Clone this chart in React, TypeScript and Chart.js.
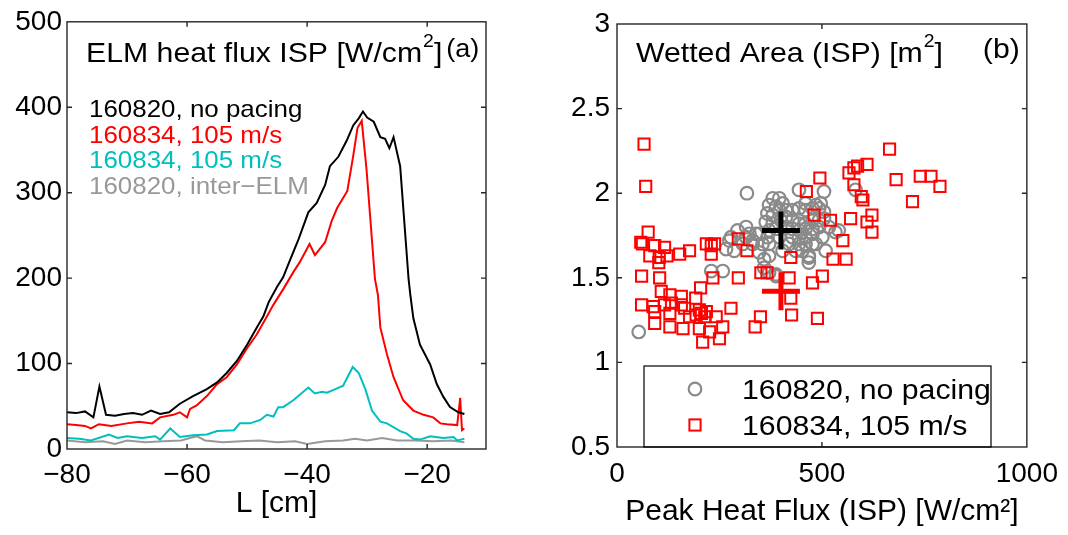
import React, { useEffect, useRef } from 'react';
import { Chart, registerables } from 'chart.js';
Chart.register(...registerables);

const FONT = '"Liberation Sans", Arial, Helvetica, sans-serif';

// ---------- Panel (a): ELM heat flux profiles ----------
const aXTicks = [-80, -60, -40, -20];
const aYTicks = [0, 100, 200, 300, 400, 500];
const aXMin = -80;
const aXMax = -10.2;
const aYMin = 0;
const aYMax = 500;

const noPacingL = [-80, -78.5, -77, -75.6, -74.6, -73.5, -72, -70.5, -69, -67.5, -66, -64.5, -63, -61.2, -59, -56.7, -55, -53.4, -51.7, -50, -48.4, -47.3, -46.4, -45, -44, -42.8, -41.4, -39.8, -38.4, -37, -36.2, -34.8, -33.4, -32.3, -31.4, -30.7, -30, -28.9, -27.8, -27, -26.3, -25.6, -24.5, -23.1, -22.8, -22.3, -21.2, -19.5, -18.4, -17.3, -16.2, -14.8, -13.8];
const noPacingQ = [43, 42, 44, 37, 73, 40, 39, 41, 42, 40, 45, 41, 43, 53, 62, 70, 78, 89, 103, 122, 142, 155, 172, 190, 201, 222, 246, 277, 288, 309, 331, 342, 361, 379, 387, 395, 388, 383, 365, 363, 352, 365, 331, 199, 180, 153, 122, 99, 76, 61, 49, 43, 41];

const pacedL = [-80, -78.5, -77, -76, -74.7, -72.6, -70, -68, -65.8, -64.5, -62.3, -61.2, -60, -59.5, -58.4, -56.7, -55, -53.4, -51.7, -50, -48.4, -46.7, -45.6, -43.9, -42.3, -41.2, -39.6, -38.7, -37, -35.9, -35, -33.3, -32.3, -31.6, -30.9, -30.1, -28.7, -28.2, -27.8, -26.7, -25.6, -24, -22.3, -20.6, -19, -17.8, -16.7, -15, -14.5, -14.2, -13.8];
const pacedQ = [29, 28, 27, 24, 29, 27, 30, 32, 30, 37, 40, 43, 37, 47, 51, 62, 76, 84, 99, 118, 134, 155, 169, 188, 207, 219, 240, 227, 242, 267, 282, 302, 344, 376, 384, 327, 199, 180, 142, 111, 84, 57, 45, 40, 37, 30, 29, 28, 60, 22, 24];

const pacedCyanL = [-80, -78, -76, -73, -71.6, -70, -67.5, -65.3, -64.5, -62.8, -61.2, -59, -56.7, -55, -52.2, -51.2, -49.5, -47.8, -46.7, -45.6, -44.8, -44, -42.3, -39.8, -38.7, -37.5, -36.7, -35, -34, -32.4, -31.4, -30.3, -29.2, -27.8, -26.7, -24.5, -23.4, -22.3, -21.2, -19.5, -17.3, -15.6, -15, -13.8];
const pacedCyanQ = [13, 12, 10, 17, 13, 15, 13, 15, 11, 24, 14, 16, 17, 21, 22, 30, 30, 34, 40, 38, 49, 49, 57, 72, 65, 67, 66, 71, 74, 96, 89, 70, 45, 32, 30, 21, 18, 12, 11, 15, 13, 14, 10, 12];

const interElmL = [-80, -77, -74, -72, -70, -67, -64, -61, -58.4, -57, -54, -51, -48, -45, -42, -40, -37, -34, -32, -30, -27.5, -25, -22, -19, -16, -13.8];
const interElmQ = [10, 8, 9, 6, 10, 8, 9, 10, 15, 10, 8, 9, 10, 8, 9, 6, 9, 10, 12, 10, 13, 10, 10, 9, 10, 8];

const aLabels = ['160820, no pacing', '160834, 105 m/s', '160834, 105 m/s', '160820, inter\u2212ELM'];
const aColors = ['#000000', '#ff0000', '#00bfbf', '#999999'];

// ---------- Panel (b): wetted area vs peak heat flux ----------
const bXTicks = [0, 500, 1000];
const bYTicks = [0.5, 1, 1.5, 2, 2.5, 3];
const bXMin = 0;
const bXMax = 1000;
const bYMin = 0.5;
const bYMax = 3;

const noPacingPeak = [317, 444, 505, 582, 380, 396, 371, 388, 404, 460, 485, 497, 367, 380, 396, 412, 428, 444, 460, 477, 493, 505, 363, 380, 428, 444, 460, 477, 493, 505, 371, 388, 428, 444, 460, 477, 493, 517, 541, 323, 347, 367, 444, 460, 477, 501, 533, 339, 315, 307, 331, 355, 371, 444, 460, 477, 485, 294, 274, 266, 286, 315, 331, 278, 347, 371, 468, 509, 428, 468, 359, 230, 258, 359, 388, 468, 388, 371, 53, 400, 412, 412, 396, 420, 404, 436, 452];
const noPacingArea = [2.00, 2.02, 2.01, 2.02, 1.97, 1.97, 1.93, 1.92, 1.94, 1.94, 1.93, 1.94, 1.88, 1.87, 1.90, 1.90, 1.90, 1.91, 1.90, 1.91, 1.91, 1.89, 1.83, 1.82, 1.84, 1.82, 1.82, 1.84, 1.84, 1.85, 1.78, 1.79, 1.79, 1.78, 1.79, 1.79, 1.80, 1.80, 1.78, 1.76, 1.76, 1.74, 1.74, 1.74, 1.76, 1.74, 1.77, 1.76, 1.80, 1.70, 1.70, 1.70, 1.70, 1.70, 1.70, 1.70, 1.70, 1.78, 1.72, 1.67, 1.66, 1.74, 1.72, 1.74, 1.65, 1.63, 1.63, 1.66, 1.74, 1.62, 1.61, 1.54, 1.54, 1.56, 1.51, 1.59, 1.52, 1.53, 1.18, 1.84, 1.80, 1.86, 1.74, 1.70, 1.66, 1.66, 1.66];

const pacedPeak = [66, 70, 76, 58, 62, 92, 116, 80, 103, 122, 153, 177, 218, 230, 238, 230, 296, 317, 102, 462, 495, 481, 521, 551, 570, 566, 578, 587, 610, 578, 596, 600, 622, 610, 622, 665, 681, 721, 740, 766, 788, 424, 527, 559, 60, 104, 108, 129, 157, 192, 204, 234, 296, 351, 366, 420, 424, 477, 501, 60, 88, 92, 116, 133, 129, 157, 165, 177, 193, 201, 218, 206, 214, 242, 278, 92, 129, 161, 201, 226, 258, 209, 250, 337, 350, 426, 489];
const pacedArea = [2.29, 2.04, 1.77, 1.71, 1.70, 1.69, 1.68, 1.63, 1.62, 1.63, 1.64, 1.66, 1.70, 1.69, 1.70, 1.64, 1.73, 1.66, 1.59, 2.01, 2.09, 1.87, 1.84, 1.72, 1.85, 2.12, 2.15, 2.16, 2.17, 2.05, 1.98, 1.96, 1.87, 1.83, 1.77, 2.26, 2.08, 1.95, 2.10, 2.10, 2.04, 1.62, 1.61, 1.61, 1.51, 1.50, 1.42, 1.40, 1.39, 1.38, 1.44, 1.50, 1.50, 1.53, 1.53, 1.50, 1.38, 1.47, 1.51, 1.34, 1.33, 1.30, 1.34, 1.35, 1.29, 1.34, 1.32, 1.27, 1.28, 1.31, 1.30, 1.29, 1.27, 1.27, 1.32, 1.23, 1.21, 1.20, 1.20, 1.18, 1.21, 1.12, 1.14, 1.21, 1.27, 1.28, 1.26];

const meanPeak = [400, 400];
const meanArea = [1.78, 1.42];
const meanColors = ['#000000', '#ff0000'];

const bLabels = ['160820, no pacing', '160834, 105 m/s'];

// ---------- helpers ----------
const pts = (xs: number[], ys: number[]) => xs.map((x, i) => ({ x, y: ys[i] }));
const fmtTick = (v: any) => String(v).replace('-', '\u2212');
const SX = 1.08;

function sText(ctx: CanvasRenderingContext2D, text: string, x: number, y: number, size: number, color: string) {
  ctx.save();
  ctx.font = `${size}px ${FONT}`;
  ctx.fillStyle = color;
  ctx.textBaseline = 'alphabetic';
  ctx.textAlign = 'left';
  ctx.translate(x, y);
  ctx.scale(SX, 1);
  ctx.fillText(text, 0, 0);
  const w = ctx.measureText(text).width * SX;
  ctx.restore();
  return w;
}

const boxPlugin = {
  id: 'matlabBox',
  afterDatasetsDraw(chart: any) {
    const { ctx, chartArea: a, scales } = chart;
    ctx.save();
    ctx.strokeStyle = '#262626';
    ctx.lineWidth = 1.4;
    ctx.strokeRect(a.left, a.top, a.right - a.left, a.bottom - a.top);
    const tl = 5;
    ctx.beginPath();
    scales.x.ticks.forEach((t: any) => {
      const p = scales.x.getPixelForValue(t.value);
      if (p <= a.left + 1 || p >= a.right - 1) return;
      ctx.moveTo(p, a.bottom); ctx.lineTo(p, a.bottom - tl);
      ctx.moveTo(p, a.top); ctx.lineTo(p, a.top + tl);
    });
    scales.y.ticks.forEach((t: any) => {
      const p = scales.y.getPixelForValue(t.value);
      if (p <= a.top + 1 || p >= a.bottom - 1) return;
      ctx.moveTo(a.left, p); ctx.lineTo(a.left + tl, p);
      ctx.moveTo(a.right, p); ctx.lineTo(a.right - tl, p);
    });
    ctx.stroke();
    ctx.restore();
  },
};

const notesA = {
  id: 'notesA',
  afterDraw(chart: any) {
    const { ctx, chartArea: a } = chart;
    let x = a.left + 19;
    x += sText(ctx, 'ELM heat flux ISP [W/cm', x, 62, 28, '#000');
    x += sText(ctx, '2', x + 1, 47, 18, '#000') + 1;
    x += sText(ctx, ']', x, 62, 28, '#000');
    sText(ctx, '(a)', x + 4, 57, 25, '#000');
    const base = [117, 143, 168, 194];
    aLabels.forEach((t, i) => sText(ctx, t, a.left + 22, base[i], 24, aColors[i]));
  },
};

const notesB = {
  id: 'notesB',
  afterDraw(chart: any) {
    const { ctx, chartArea: a } = chart;
    let x = a.left + 19;
    x += sText(ctx, 'Wetted Area (ISP) [m', x, 62, 28, '#000');
    x += sText(ctx, '2', x + 1, 47, 18, '#000') + 1;
    sText(ctx, ']', x, 62, 28, '#000');
    sText(ctx, '(b)', a.right - 44, 58, 28, '#000');
    // legend box
    const bx = a.left + 27, by = a.top + 342, bw = 347, bh = 81;
    ctx.save();
    ctx.strokeStyle = '#000';
    ctx.lineWidth = 1.2;
    ctx.strokeRect(bx, by, bw, bh);
    // circle marker
    ctx.strokeStyle = '#8a8a8a';
    ctx.lineWidth = 2.2;
    ctx.beginPath();
    ctx.arc(bx + 51, by + 23, 6.3, 0, Math.PI * 2);
    ctx.stroke();
    // square marker
    ctx.strokeStyle = '#ff0000';
    ctx.lineWidth = 2;
    ctx.strokeRect(bx + 51 - 5.6, by + 59 - 5.6, 11.2, 11.2);
    ctx.restore();
    sText(ctx, bLabels[0], bx + 98, by + 33, 28, '#000');
    sText(ctx, bLabels[1], bx + 98, by + 69, 28, '#000');
  },
};

const tickFont = { family: FONT, size: 28 };
const titleFont = { family: FONT, size: 30 };

function makeLeft(canvas: HTMLCanvasElement) {
  const series = [
    [noPacingL, noPacingQ],
    [pacedL, pacedQ],
    [pacedCyanL, pacedCyanQ],
    [interElmL, interElmQ],
  ];
  return new Chart(canvas, {
    type: 'line',
    data: {
      datasets: series.map((s, i) => ({
        label: aLabels[i],
        data: pts(s[0], s[1]),
        borderColor: aColors[i],
        borderWidth: 2,
        pointRadius: 0,
        tension: 0,
        fill: false,
      })),
    },
    options: {
      animation: false,
      responsive: false,
      devicePixelRatio: 1,
      layout: { padding: { left: 0, top: 17, right: 59, bottom: 0 } },
      plugins: { legend: { display: false }, tooltip: { enabled: false } },
      scales: {
        x: {
          type: 'linear',
          min: aXMin,
          max: aXMax,
          grid: { display: false, drawTicks: false },
          border: { display: false },
          afterBuildTicks: (s: any) => { s.ticks = aXTicks.map((v) => ({ value: v })); },
          afterFit: (s: any) => { s.height = 86; },
          ticks: { font: tickFont, color: '#000', padding: 9, maxRotation: 0, callback: fmtTick },
          title: { display: true, text: 'L [cm]', font: titleFont, color: '#000', padding: { top: 0, bottom: 13 } },
        },
        y: {
          type: 'linear',
          min: aYMin,
          max: aYMax,
          grid: { display: false, drawTicks: false },
          border: { display: false },
          afterBuildTicks: (s: any) => { s.ticks = aYTicks.map((v) => ({ value: v })); },
          afterFit: (s: any) => { s.width = 67; },
          ticks: { font: tickFont, color: '#000', padding: 5, callback: fmtTick },
        },
      },
    } as any,
    plugins: [boxPlugin, notesA],
  });
}

function makeRight(canvas: HTMLCanvasElement) {
  return new Chart(canvas, {
    type: 'scatter',
    data: {
      datasets: [
        ...meanPeak.map((p, i) => ({
          label: 'mean',
          data: [{ x: p, y: meanArea[i] }],
          pointStyle: 'cross',
          pointRadius: 19,
          pointBorderWidth: 5,
          borderColor: meanColors[i],
          backgroundColor: meanColors[i],
        })),
        {
          label: bLabels[1],
          data: pts(pacedPeak, pacedArea),
          pointStyle: 'rect',
          pointRadius: 7.9,
          pointBorderWidth: 2,
          borderColor: '#ff0000',
          backgroundColor: 'rgba(0,0,0,0)',
        },
        {
          label: bLabels[0],
          data: pts(noPacingPeak, noPacingArea),
          pointStyle: 'circle',
          pointRadius: 6.3,
          pointBorderWidth: 2.2,
          borderColor: '#8a8a8a',
          backgroundColor: 'rgba(0,0,0,0)',
        },
      ],
    },
    options: {
      animation: false,
      responsive: false,
      devicePixelRatio: 1,
      layout: { padding: { left: 0, top: 17, right: 39, bottom: 0 } },
      plugins: { legend: { display: false }, tooltip: { enabled: false } },
      scales: {
        x: {
          type: 'linear',
          min: bXMin,
          max: bXMax,
          grid: { display: false, drawTicks: false },
          border: { display: false },
          afterBuildTicks: (s: any) => { s.ticks = bXTicks.map((v) => ({ value: v })); },
          afterFit: (s: any) => { s.height = 88; },
          ticks: { font: tickFont, color: '#000', padding: 10, maxRotation: 0, callback: fmtTick },
          title: { display: true, text: 'Peak Heat Flux (ISP) [W/cm\u00b2]', font: titleFont, color: '#000', padding: { top: 0, bottom: 5 } },
        },
        y: {
          type: 'linear',
          min: bYMin,
          max: bYMax,
          grid: { display: false, drawTicks: false },
          border: { display: false },
          afterBuildTicks: (s: any) => { s.ticks = bYTicks.map((v) => ({ value: v })); },
          afterFit: (s: any) => { s.width = 72; },
          ticks: { font: tickFont, color: '#000', padding: 7, callback: fmtTick },
        },
      },
    } as any,
    plugins: [boxPlugin, notesB],
  });
}

export default function App() {
  const leftRef = useRef<HTMLCanvasElement>(null);
  const rightRef = useRef<HTMLCanvasElement>(null);
  useEffect(() => {
    const c1 = makeLeft(leftRef.current as HTMLCanvasElement);
    const c2 = makeRight(rightRef.current as HTMLCanvasElement);
    return () => {
      c1.destroy();
      c2.destroy();
    };
  }, []);
  return (
    <div style={{ position: 'absolute', left: 0, top: 0, width: 1068, height: 535, background: '#fff', overflow: 'hidden' }}>
      <canvas ref={leftRef} width={545} height={535} style={{ position: 'absolute', left: 0, top: 0, width: 545, height: 535 }} />
      <canvas ref={rightRef} width={523} height={535} style={{ position: 'absolute', left: 545, top: 0, width: 523, height: 535 }} />
    </div>
  );
}
